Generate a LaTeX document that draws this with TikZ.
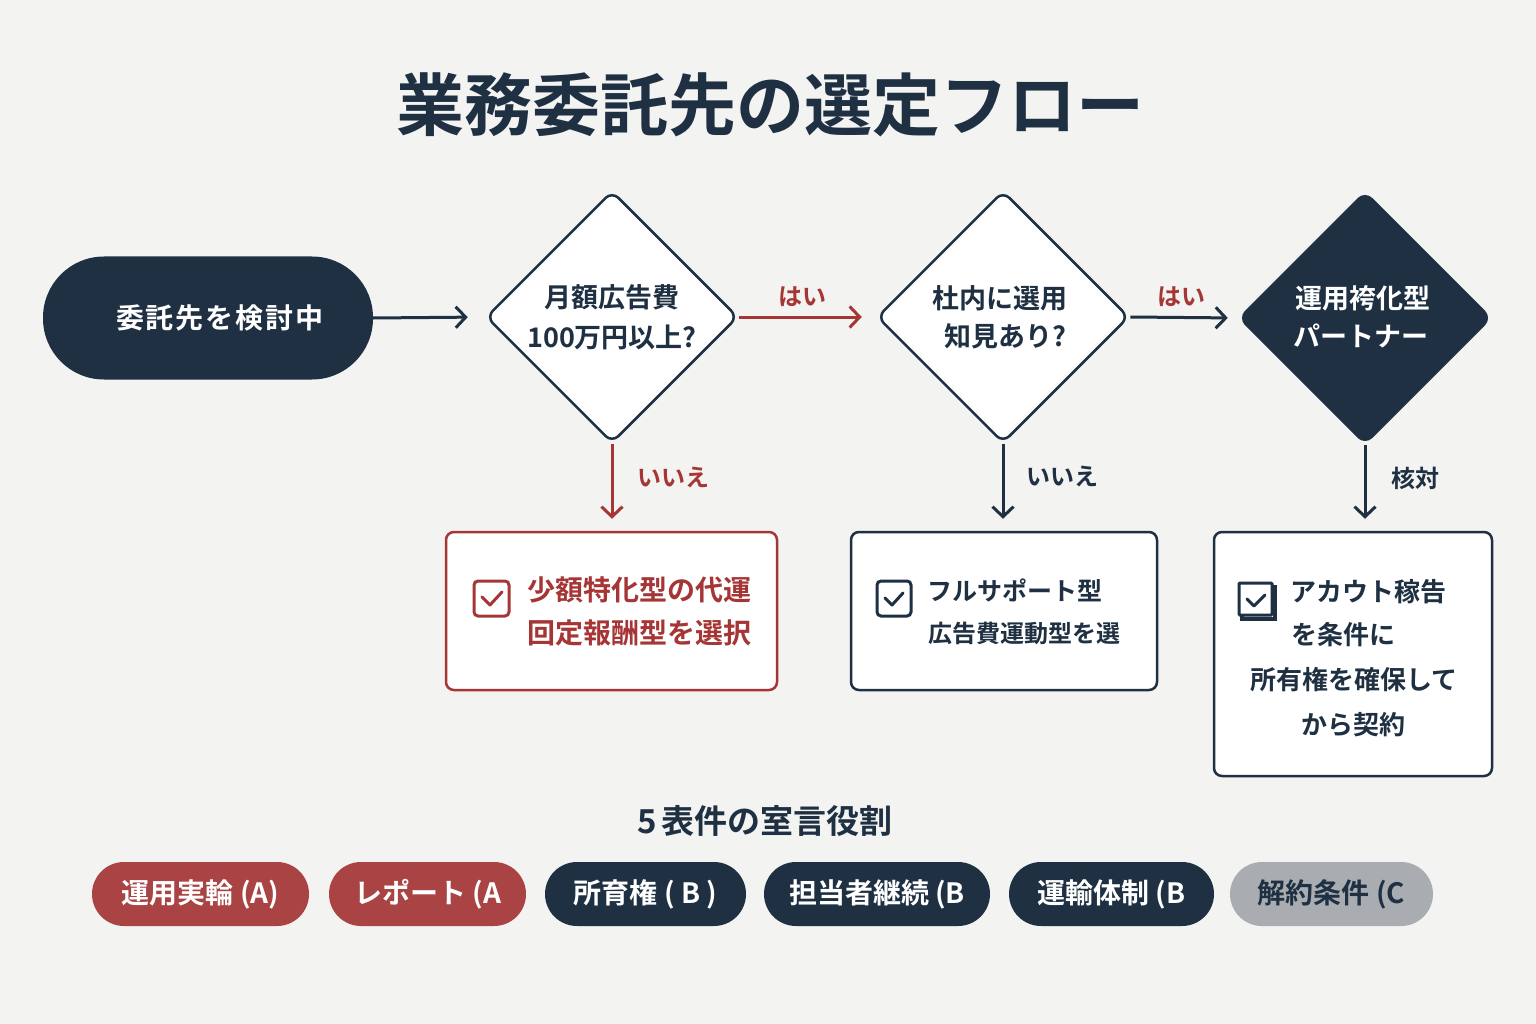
\documentclass[tikz,border=0pt]{standalone}
\usepackage{fontspec}
\setmainfont{Noto Sans CJK JP}[BoldFont={Noto Sans CJK JP Bold}]
\usetikzlibrary{shapes.geometric,arrows.meta}
\definecolor{bg}{HTML}{F3F3F1}
\definecolor{navy}{HTML}{1E3042}
\definecolor{redc}{HTML}{A63636}
\definecolor{redpill}{HTML}{AA4343}
\definecolor{graypill}{HTML}{A9ADB2}
\newcommand\fsz[1]{\fontsize{#1}{#1}\selectfont\bfseries}
\begin{document}
\begin{tikzpicture}[x=1pt,y=-1pt,
  diam/.style={diamond, aspect=1, minimum width=252pt, minimum height=252pt, inner sep=0pt, draw=navy, line width=2.5pt, rounded corners=9pt, fill=white},
  arr/.style={line width=3pt, -{Straight Barb[length=10pt,width=21pt]}},
  box/.style={rectangle, rounded corners=8pt, line width=2.5pt, fill=white},
  pill/.style={rectangle, rounded corners=32pt, minimum height=64pt, inner sep=0pt, text=white, font=\fsz{28}},
  dtext/.style={text=navy, font=\fsz{27}, inner sep=0pt},
  lbl/.style={font=\fsz{24}, inner sep=0pt},
  btext/.style={font=\fsz{26}, inner sep=0pt},
  chk/.style={line width=3pt, rounded corners=4pt}
]
\fill[bg] (0,0) rectangle (1536,1024);
\useasboundingbox (0,0) rectangle (1536,1024);

% title
\node[text=navy, font=\fsz{68}, inner sep=0pt] (title) at (770,105) {業務委託先の選定フロー};

% start
\node[rectangle, rounded corners=61pt, fill=navy, minimum width=330pt, minimum height=123pt, inner sep=0pt, text=white, font=\fsz{28}] (start) at (208,318) {\hspace*{24pt}委\kern2pt 託\kern2pt 先\kern2pt を\kern2pt 検\kern2pt 討\kern2pt 中};

% diamonds
\node[diam] (d1) at (612,317) {};
\node[diam] (d2) at (1003,317) {};
\node[diam, fill=navy] (d3) at (1365,318) {};

\node[dtext] (d1a) at (612,297) {月額広告費};
\node[dtext] (d1b) at (612,337) {100万円以上?};
\node[dtext] (d2a) at (1000,298) {杜内に選用};
\node[dtext] (d2b) at (1005,336) {知見あり?};
\node[dtext, text=white] (d3a) at (1363,298) {運用袴化型};
\node[dtext, text=white] (d3b) at (1361,336) {パートナー};

% boxes
\node[box, draw=redc, minimum width=331pt, minimum height=158pt] (b1) at (611.5,611) {};
\node[box, draw=navy, minimum width=306pt, minimum height=158pt] (b2) at (1004,611) {};
\node[box, draw=navy, minimum width=278pt, minimum height=244pt] (b3) at (1353,654) {};

% arrows
\draw[arr, navy, shorten >=17pt] (start.east) -- (d1.west);
\draw[arr, redc, shorten >=14pt] (d1.east) -- (d2.west);
\draw[arr, navy, shorten >=10pt] (d2.east) -- (d3.west);
\draw[arr, redc, shorten >=12pt] (d1.south) -- (d1.south |- b1.north);
\draw[arr, navy, shorten >=12pt] (d2.south) -- (d2.south |- b2.north);
\draw[arr, navy, shorten >=12pt] (d3.south) -- (d3.south |- b3.north);

% arrow labels
\node[lbl, text=redc] (l1) at (802,297) {はい};
\node[lbl, text=redc] (l2) at (1181,297) {はい};
\node[lbl, text=redc] (l3) at (673,477) {いいえ};
\node[lbl, text=navy] (l4) at (1062,476) {いいえ};
\node[lbl, text=navy] (l5) at (1415,478) {核対};

% box 1 content
\draw[chk, draw=redc] (474,581) rectangle (509,616);
\draw[line width=3pt, redc, line cap=round, line join=round] (482,597) -- (490,605) -- (502,592);
\node[btext, text=redc, anchor=west, font=\fsz{28}] (b1a) at (527,590) {少額特化型の代運};
\node[btext, text=redc, anchor=west, font=\fsz{28}] (b1b) at (527,633) {回定報酬型を選択};

% box 2 content
\draw[chk, draw=navy] (877,581) rectangle (911,616);
\draw[line width=3pt, navy, line cap=round, line join=round] (885,598) -- (892,605) -- (903,593);
\node[btext, text=navy, anchor=west, font=\fsz{25}] (b2a) at (927,590) {フルサポート型};
\node[btext, text=navy, anchor=west, font=\fsz{24}] (b2b) at (928,633) {広告費運動型を選};

% box 3 content
\draw[line width=4pt, navy] (1242,587) rectangle (1275,619);
\draw[chk, draw=navy, fill=white, rounded corners=1pt] (1239,583) rectangle (1272,615);
\draw[line width=3pt, navy, line cap=round, line join=round] (1247,599) -- (1254,606) -- (1265,595);
\node[btext, text=navy, anchor=west] (b3a) at (1290,592) {アカウト稼告};
\node[btext, text=navy] (b3b) at (1343,635) {を条件に};
\node[btext, text=navy] (b3c) at (1354,680) {所有権を確保して};
\node[btext, text=navy] (b3d) at (1353,725) {から契約};

% legend
\node[text=navy, font=\fsz{33}, inner sep=0pt] (leg) at (765,821) {5\,表件の室言役割};

\node[pill, fill=redpill, minimum width=217pt] (p1) at (200.5,894) {運用実輪 (A)};
\node[pill, fill=redpill, minimum width=197pt] (p2) at (427.5,894) {レポート (A};
\node[pill, fill=navy, minimum width=201pt] (p3) at (645.5,894) {所育権 ( B )};
\node[pill, fill=navy, minimum width=226pt] (p4) at (877,894) {担当者継続 (B};
\node[pill, fill=navy, minimum width=205pt] (p5) at (1111.5,894) {運輸体制 (B};
\node[pill, fill=graypill, text=navy, minimum width=203pt] (p6) at (1331.5,894) {解約条件 (C};
\end{tikzpicture}
\end{document}
